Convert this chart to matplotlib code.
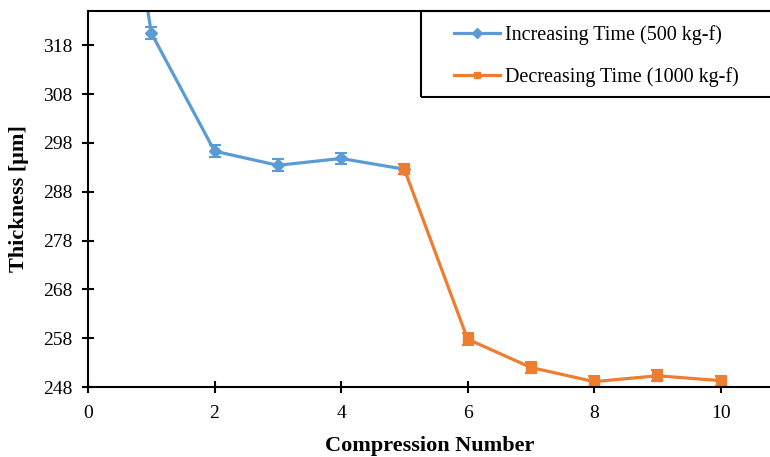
import matplotlib.pyplot as plt
from matplotlib.patches import Rectangle

plt.rcParams['font.family'] = ['Liberation Serif', 'DejaVu Serif']

# data
inc_x = [0, 1, 2, 3, 4, 5]
inc_y = [405.0, 320.5, 296.3, 293.4, 294.8, 292.6]
inc_err = [1.2, 1.3, 1.2, 1.2, 1.2, 1.0]

dec_x = [5, 6, 7, 8, 9, 10]
dec_y = [292.6, 257.8, 252.0, 249.1, 250.3, 249.3]
dec_err = [1.0, 1.2, 1.2, 1.1, 1.1, 1.0]

x_ticks = [0, 2, 4, 6, 8, 10]
y_ticks = [248, 258, 268, 278, 288, 298, 308, 318]

blue = '#5B9BD5'
orange = '#ED7D31'

fig = plt.figure(figsize=(7.7, 4.57), dpi=100)
ax = fig.add_axes([88 / 770, 1 - 387 / 457, 1 - 88 / 770 + 0.001, (387 - 11) / 457])

ax.errorbar(inc_x, inc_y, yerr=inc_err, color=blue, lw=2.3, marker='D', ms=6.5,
            capsize=4, capthick=1.5, elinewidth=1.5, label='Increasing Time (500 kg-f)')
ax.errorbar(dec_x, dec_y, yerr=dec_err, color=orange, lw=2.3, marker='s', ms=6.5,
            capsize=4, capthick=1.5, elinewidth=1.5, label='Decreasing Time (1000 kg-f)')

ax.set_xlim(0, (770 - 88) / 63.2)
ax.set_ylim(248, 325.0)
ax.set_xticks(x_ticks)
ax.set_yticks(y_ticks)
ax.spines['right'].set_visible(False)
for s in ['left', 'bottom', 'top']:
    ax.spines[s].set_linewidth(1.5)
ax.tick_params(direction='inout', length=8, width=1.5, labelsize=14)
ax.tick_params(axis='y', pad=7)
ax.tick_params(axis='x', pad=9)

ax.set_xlabel('Compression Number', fontsize=16, fontweight='bold', labelpad=10)
ax.set_ylabel('Thickness [μm]', fontsize=16, fontweight='bold', labelpad=10)

# legend (box runs off the right edge as in the reference)
h, l = ax.get_legend_handles_labels()
h = [hh[0] for hh in h]
leg = fig.legend(h, l, loc='upper left', bbox_to_anchor=(454 / 770, 1 - 25 / 457),
                 frameon=False, fontsize=14.5, handlelength=2.3, handletextpad=0.25,
                 labelspacing=1.1, markerscale=0.75, borderaxespad=0, borderpad=0)
fig.patches.append(Rectangle((421 / 770, 1 - 97 / 457), 0.6, 86 / 457,
                             transform=fig.transFigure, fill=False,
                             edgecolor='black', linewidth=1.5))

fig.savefig('out.png', dpi=100)
